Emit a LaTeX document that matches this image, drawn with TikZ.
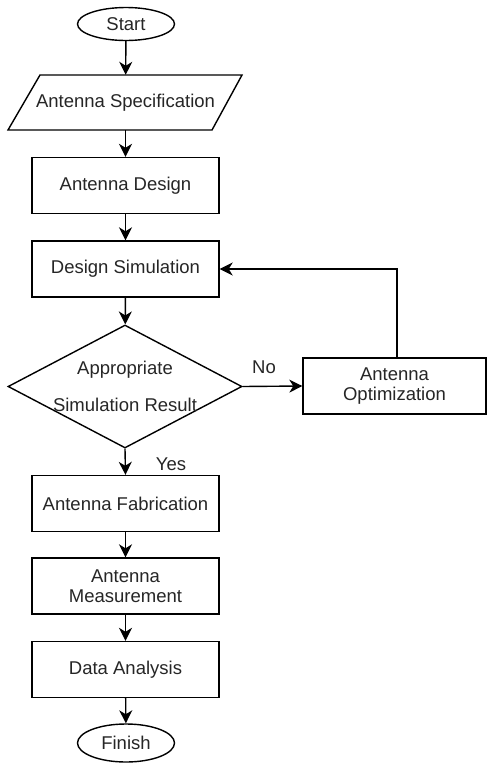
\documentclass[tikz,border=0pt]{standalone}
\usepackage{fontspec}
\setmainfont{Liberation Sans}
\usetikzlibrary{shapes.geometric,arrows.meta}
\begin{document}
\begin{tikzpicture}[x=1pt,y=-1pt,
  every node/.style={font=\fontsize{18.5}{20}\selectfont, text=black!85},
  proc/.style={draw, line width=1.4pt, minimum width=187pt, minimum height=56pt, inner sep=0pt, align=center},
  term/.style={draw, ellipse, line width=1.4pt, minimum width=97pt, minimum height=33pt, inner sep=0pt},
  lbl/.style={inner sep=0pt},
  arr/.style={line width=1.4pt, -{Stealth[length=13pt,width=13pt,inset=4pt]}},
  ln/.style={line width=1.4pt}]
\useasboundingbox (0,0) rectangle (487,764);
\fill[white] (0,0) rectangle (487,764);
% Start
\node[term] (start) at (126,24) {Start};
% Specification (parallelogram)
\draw[ln] (40,75) -- (242,75) -- (212,130) -- (8,130) -- cycle;
\node[minimum width=180pt, minimum height=55pt, inner sep=0pt] (spec) at (125.5,102.5) {Antenna Specification};
% process boxes
\node[proc] (design) at (125.5,185.5) {Antenna Design};
\node[proc] (sim) at (125.5,269) {Design Simulation};
\node[draw, diamond, line width=1.4pt, minimum width=234pt, minimum height=123pt, inner sep=0pt, aspect=1.9, align=center] (dec) at (125,386.5) {};
\node[align=center, lbl] (dectxt) at (125,386) {Appropriate\\[17pt]Simulation Result};
\node[proc, minimum width=183pt] (opt) at (394.5,386) {Antenna\\Optimization};
\node[proc] (fab) at (125.5,503.5) {Antenna Fabrication};
\node[proc] (meas) at (125.5,586) {Antenna\\Measurement};
\node[proc] (data) at (125.5,669.5) {Data Analysis};
\node[term, minimum height=38pt] (finish) at (126,743) {Finish};
% connectors
\draw[arr] (start) -- (spec);
\draw[arr] (spec) -- (design);
\draw[arr] (design) -- (sim);
\draw[arr] (sim) -- (dec);
\draw[arr] (dec.east) -- (opt.west);
\node[lbl] (no) at (264,367) {No};
\coordinate (loopc) at (397,269);
\draw[arr] (opt.north -| loopc) -- (loopc) -- (sim.east);
\draw[arr] (dec.south) -- (fab.north);
\node[lbl] (yes) at (171,464) {Yes};
\draw[arr] (fab) -- (meas);
\draw[arr] (meas) -- (data);
\draw[arr] (data) -- (finish);
\end{tikzpicture}
\end{document}
